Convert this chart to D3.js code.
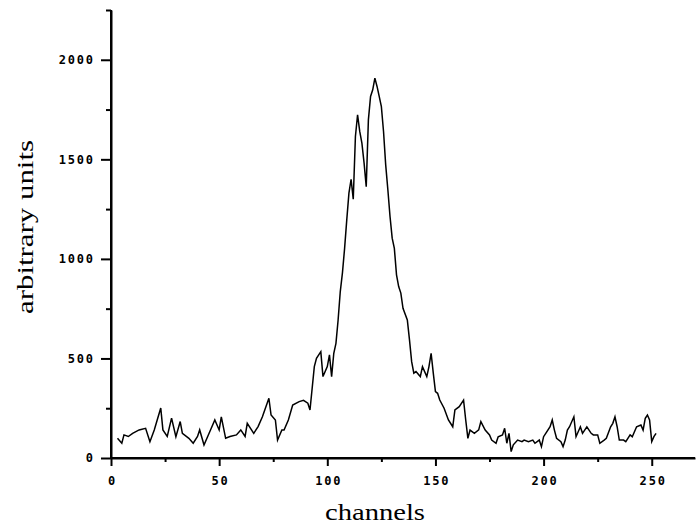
<!DOCTYPE html>
<html>
<head>
<meta charset="utf-8">
<script src="https://cdn.jsdelivr.net/npm/d3@7"></script>
<style>
  body { margin: 0; background: #fff; }
  svg { display: block; }
  .tick text { font-family: "DejaVu Sans Mono", monospace; font-weight: bold; font-size: 12px; letter-spacing: 1.8px; fill: #000; }
  .axis path, .axis line { stroke: #000; stroke-width: 2; }
  .title { font-family: "Liberation Serif", "Times New Roman", serif; font-size: 24px; fill: #000; }
</style>
</head>
<body>
<svg id="chart" width="696" height="527"></svg>
<script>
// spectrum: channel number and counts
var channels = [3, 5, 6, 8, 10, 13, 16, 18, 20, 23, 24, 26, 28, 30, 32, 33, 36, 38, 40, 41,
    43, 46, 48, 50, 51, 53, 55, 58, 60, 62, 63, 66, 68, 70, 73, 74, 76, 77, 79, 80,
    82, 84, 87, 89, 91, 92, 94, 95, 97, 98, 100, 101, 102, 103, 104, 105, 106, 107, 108, 109,
    110, 111, 112, 113, 114, 115, 116, 117, 118, 119, 120, 121, 122, 123, 124, 125, 126, 127, 128, 129,
    130, 131, 132, 133, 134, 135, 137, 138, 139, 140, 141, 143, 144, 146, 147, 148, 149, 150, 151, 152,
    154, 156, 158, 159, 161, 163, 164, 165, 166, 168, 170, 171, 173, 175, 176, 178, 179, 181, 182, 183,
    184, 185, 186, 188, 190, 191, 193, 195, 196, 198, 199, 200, 201, 203, 204, 205, 206, 208, 209, 210,
    211, 212, 214, 215, 217, 218, 220, 222, 223, 225, 226, 228, 229, 231, 232, 233, 234, 235, 237, 238,
    240, 241, 243, 245, 246, 247, 248, 249, 250, 251, 252];
var counts = [99, 74, 116, 108, 124, 141, 149, 82, 141, 251, 141, 108, 200, 107, 183, 124, 99, 74, 108, 141,
    65, 141, 191, 141, 207, 99, 108, 116, 141, 108, 174, 124, 158, 207, 300, 216, 191, 90, 141, 141,
    191, 266, 283, 290, 275, 241, 459, 501, 534, 409, 459, 518, 409, 526, 576, 693, 836, 930, 1053, 1196,
    1330, 1400, 1300, 1615, 1724, 1640, 1581, 1482, 1363, 1698, 1816, 1849, 1908, 1866, 1816, 1765, 1640, 1472, 1347, 1213,
    1104, 1053, 920, 861, 828, 752, 693, 593, 484, 426, 434, 409, 459, 409, 459, 526, 426, 333, 325, 291,
    250, 191, 157, 241, 258, 291, 191, 99, 140, 124, 141, 183, 140, 116, 90, 74, 107, 116, 149, 74,
    124, 32, 66, 90, 82, 90, 82, 90, 74, 90, 57, 107, 124, 157, 191, 140, 99, 82, 57, 90,
    140, 157, 207, 107, 157, 124, 157, 124, 116, 116, 74, 90, 99, 157, 174, 207, 157, 90, 90, 82,
    116, 107, 157, 166, 140, 199, 216, 191, 82, 107, 124];

var xTicks = [0, 50, 100, 150, 200, 250];
var xMinor = [25, 75, 125, 175, 225];
var yTicks = [0, 500, 1000, 1500, 2000];
var yMinor = [250, 750, 1250, 1750, 2250];

var svg = d3.select("#chart");

// scales fitted to the tick positions in the picture
var xScale = d3.scaleLinear().domain([0, 270]).range([111, 695]);
var yScale = d3.scaleLinear().domain([0, 2250]).range([458, 10]);

// minor ticks first, then the labelled axes on top
svg.append("g")
    .attr("class", "axis")
    .attr("transform", "translate(0,458)")
    .call(d3.axisBottom(xScale).tickValues(xMinor).tickSize(4).tickSizeOuter(0).tickFormat(""));

svg.append("g")
    .attr("class", "axis")
    .attr("transform", "translate(111,0)")
    .call(d3.axisLeft(yScale).tickValues(yMinor).tickSize(5).tickSizeOuter(0).tickFormat(""));

var xAxis = svg.append("g")
    .attr("class", "axis")
    .attr("transform", "translate(0,458)")
    .call(d3.axisBottom(xScale).tickValues(xTicks).tickSize(8).tickPadding(10)
        .tickSizeOuter(0).tickFormat(d3.format("d")));
xAxis.select(".domain").remove();
xAxis.selectAll("text").attr("dx", "0.9px");

var yAxis = svg.append("g")
    .attr("class", "axis")
    .attr("transform", "translate(111,0)")
    .call(d3.axisLeft(yScale).tickValues(yTicks).tickSize(10).tickPadding(8)
        .tickSizeOuter(0).tickFormat(d3.format("d")));
yAxis.select(".domain").remove();
yAxis.selectAll("text").attr("dx", "1.8px");

// axis lines drawn through the scales
svg.append("line")
    .attr("x1", xScale(0)).attr("x2", xScale(270))
    .attr("y1", yScale(0)).attr("y2", yScale(0))
    .attr("stroke", "#000").attr("stroke-width", 2);
svg.append("line")
    .attr("x1", xScale(0)).attr("x2", xScale(0))
    .attr("y1", yScale(0)).attr("y2", yScale(2250))
    .attr("stroke", "#000").attr("stroke-width", 2);

// the spectrum
var line = d3.line()
    .x(function (d, i) { return xScale(channels[i]); })
    .y(function (d) { return yScale(d); });

svg.append("path")
    .datum(counts)
    .attr("d", line)
    .attr("fill", "none")
    .attr("stroke", "#000")
    .attr("stroke-width", 1.5)
    .attr("stroke-linejoin", "miter");

// axis titles
svg.append("text")
    .attr("class", "title")
    .attr("x", 375)
    .attr("y", 520)
    .attr("text-anchor", "middle")
    .attr("textLength", 100)
    .attr("lengthAdjust", "spacingAndGlyphs")
    .text("channels");

svg.append("text")
    .attr("class", "title")
    .attr("transform", "translate(33,227) rotate(-90)")
    .attr("text-anchor", "middle")
    .attr("textLength", 174)
    .attr("lengthAdjust", "spacingAndGlyphs")
    .text("arbitrary units");
</script>
</body>
</html>
